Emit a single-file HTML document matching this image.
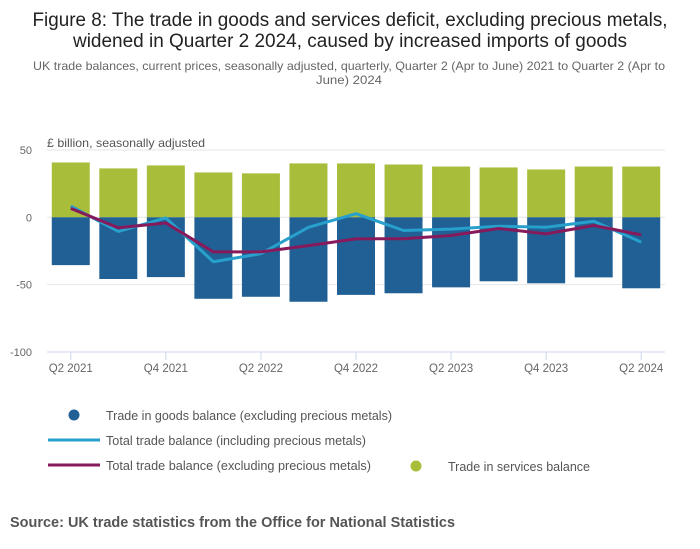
<!DOCTYPE html>
<html><head><meta charset="utf-8"><style>
body{margin:0;background:#fff;}
svg{display:block;font-family:"Liberation Sans",sans-serif;}
</style></head><body>
<svg id="chart" width="700" height="549">
<text x="350" y="26" text-anchor="middle" font-size="19" fill="#222" textLength="635" lengthAdjust="spacingAndGlyphs">Figure 8: The trade in goods and services deficit, excluding precious metals,</text>
<text x="350" y="47" text-anchor="middle" font-size="19" fill="#222" textLength="554" lengthAdjust="spacingAndGlyphs">widened in Quarter 2 2024, caused by increased imports of goods</text>
<text x="349" y="70" text-anchor="middle" font-size="12" fill="#666" textLength="632" lengthAdjust="spacingAndGlyphs">UK trade balances, current prices, seasonally adjusted, quarterly, Quarter 2 (Apr to June) 2021 to Quarter 2 (Apr to</text>
<text x="349" y="84" text-anchor="middle" font-size="12" fill="#666" textLength="66" lengthAdjust="spacingAndGlyphs">June) 2024</text>
<text x="47" y="147" font-size="12" fill="#555" textLength="158" lengthAdjust="spacingAndGlyphs">£ billion, seasonally adjusted</text>
<g id="grid"></g><g id="bars"></g><g id="lines"></g><g id="axes"></g>
<g>
<circle cx="74" cy="415" r="5.5" fill="#206095"/>
<text x="106" y="420" font-size="12.5" fill="#555" textLength="286" lengthAdjust="spacingAndGlyphs">Trade in goods balance (excluding precious metals)</text>
<line x1="48" y1="440" x2="100" y2="440" stroke="#27a0cc" stroke-width="3"/>
<text x="106" y="445" font-size="12.5" fill="#555" textLength="260" lengthAdjust="spacingAndGlyphs">Total trade balance (including precious metals)</text>
<line x1="48" y1="465" x2="100" y2="465" stroke="#871a5b" stroke-width="3"/>
<text x="106" y="470" font-size="12.5" fill="#555" textLength="265" lengthAdjust="spacingAndGlyphs">Total trade balance (excluding precious metals)</text>
<circle cx="416" cy="466" r="5.5" fill="#a8bd3a"/>
<text x="448" y="471" font-size="12.5" fill="#555" textLength="142" lengthAdjust="spacingAndGlyphs">Trade in services balance</text>
</g>
<text x="10" y="527" font-size="14.5" font-weight="bold" fill="#555" textLength="445" lengthAdjust="spacingAndGlyphs">Source: UK trade statistics from the Office for National Statistics</text>
</svg>
<script>
const categories=["Q2 2021","Q3 2021","Q4 2021","Q1 2022","Q2 2022","Q3 2022","Q4 2022","Q1 2023","Q2 2023","Q3 2023","Q4 2023","Q1 2024","Q2 2024"];
const services=[40.7,36.3,38.5,33.3,32.6,40,40,39.2,37.7,37,35.5,37.7,37.7];
const goods=[-35.5,-45.8,-44.4,-60.5,-59,-62.7,-57.6,-56.4,-52,-47.5,-49,-44.6,-52.7];
const totalIncl=[8.3,-10.5,-0.5,-33,-27,-7.4,2.7,-9.8,-8.8,-6.6,-7.4,-2.9,-18.4];
const totalExcl=[6.6,-7.8,-4.2,-25.7,-25.7,-21,-16,-15.9,-13.5,-8.3,-12.3,-6.1,-13];
const yTicks=[50,0,-50,-100];
const xTickIdx=[0,2,4,6,8,10,12];

const NS="http://www.w3.org/2000/svg";
const left=47,right=665,step=(right-left)/categories.length,barW=38;
const x=i=>left+step*(i+0.5);
const y=v=>217.3-v*1.347;
function mk(tag,attrs,parent){const e=document.createElementNS(NS,tag);for(const k in attrs)e.setAttribute(k,attrs[k]);document.getElementById(parent).appendChild(e);return e;}
yTicks.forEach(t=>{
  const l=mk('line',{x1:left,x2:right,y1:y(t),y2:y(t),stroke:t===-100?'#ccd6eb':'#e6e6e6','stroke-width':1},'grid');
  
  
  const tx=mk('text',{x:32,y:y(t)+4,'text-anchor':'end','font-size':11,fill:'#666'},'axes');
  tx.textContent=t;
  
  
});
xTickIdx.forEach(i=>{
  const l=mk('line',{x1:x(i),x2:x(i),y1:y(-100),y2:y(-100)+8,stroke:'#ccd6eb'},'axes');
  
  
  const tx=mk('text',{x:x(i),y:372,'text-anchor':'middle','font-size':11.5,fill:'#666'},'axes');
  tx.textContent=categories[i];
  
  
});
categories.forEach((c,i)=>{
  const s=mk('rect',{x:x(i)-barW/2,y:y(services[i]),width:barW,height:y(0)-y(services[i]),fill:'#a8bd3a'},'bars');
  
  
  const g=mk('rect',{x:x(i)-barW/2,y:y(0),width:barW,height:y(goods[i])-y(0),fill:'#206095'},'bars');
  
  
});
function line(vals,color,name){
  const p=mk('polyline',{points:vals.map((v,i)=>x(i)+','+y(v)).join(' '),fill:'none',stroke:color,'stroke-width':3,'stroke-linejoin':'round'},'lines');
  
  
}
line(totalIncl,'#27a0cc','total-incl-line');
line(totalExcl,'#871a5b','total-excl-line');
</script>
</body></html>
